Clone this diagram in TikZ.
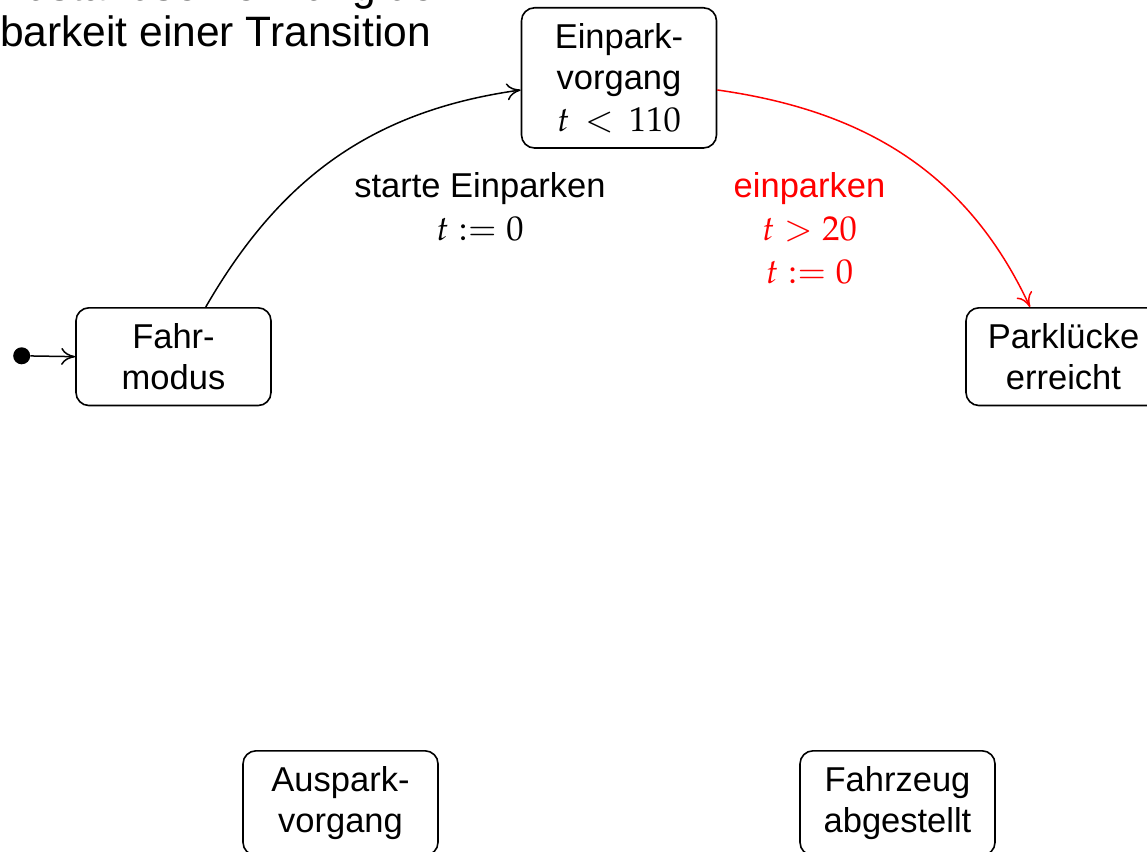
\documentclass[tikz,border=0pt]{standalone}
\usepackage{mathpazo}
\usepackage[no-math]{fontspec}
\setmainfont{Liberation Sans}
\usetikzlibrary{arrows.meta}
\newcommand\diagfont{\fontsize{34.5}{41.4}\selectfont}
\newcommand\labelfont{\fontsize{34.5}{43}\selectfont}
\newcommand\headfont{\fontsize{42.5}{46.5}\selectfont}
\begin{document}
\begin{tikzpicture}[x=1pt,y=-1pt,
  state/.style={draw, line width=1.6pt, rounded corners=13pt,
    minimum width=195pt, inner xsep=8pt, inner ysep=15.5pt,
    align=center, anchor=north, font=\diagfont},
  trans/.style={line width=1.5pt, -{To[length=14pt,width=17pt]}},
  lbl/.style={align=center, anchor=north, inner sep=0pt, font=\labelfont},
  headline/.style={anchor=base west, inner sep=0pt, font=\headfont},
  startdot/.style={circle, fill, inner sep=0pt, minimum size=17pt}]
  \useasboundingbox (0,0) rectangle (1147,851);
  \clip (0,0) rectangle (1147,851);

  % heading, two lines
  \node[headline] (head1) at (0,0.1) {Zustandserkennung der};
  \node[headline] (head2) at (0,47)  {barkeit einer Transition};

  % states
  \node[state] (fahr)    at (173.5,307) {Fahr-\\modus};
  \node[state] (einpark) at (619,7)     {Einpark-\\vorgang\\$t \mskip3mu<\mskip3mu 110$};
  \node[state] (park)    at (1063.5,307) {Parklücke\\erreicht};
  \node[state] (auspark) at (340.5,750) {Auspark-\\vorgang};
  \node[state] (abgest)  at (897.5,750) {Fahrzeug\\abgestellt};

  % initial state
  \node[startdot] (init) at (21.7,355.8) {};
  \draw[trans] (init) -- (fahr.west);

  % transitions
  \draw[trans] (fahr.57) to[out=60, in=188] (einpark.187);
  \draw[trans, red] (einpark.-7) to[out=-8, in=115] (park.124);

  % transition labels
  \node[lbl] (l1) at (480,172) {starte Einparken\\$t := 0$};
  \node[lbl, text=red] (l2) at (809.5,172) {einparken\\$t > 20$\\$t := 0$};
\end{tikzpicture}
\end{document}
